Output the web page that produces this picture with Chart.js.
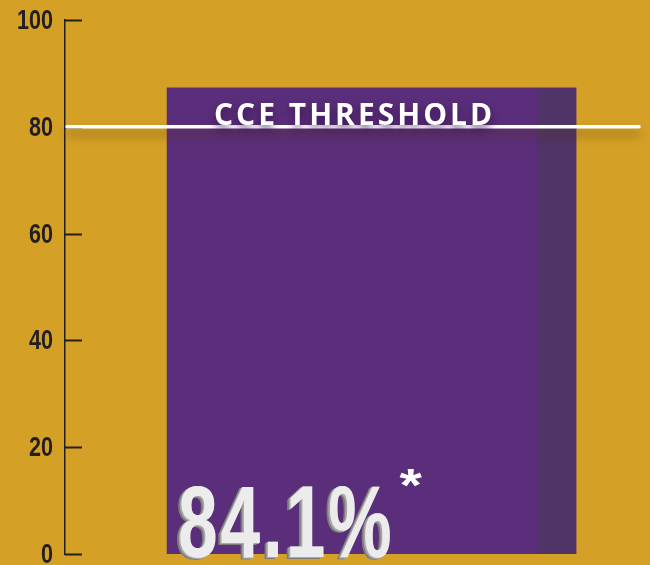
<!DOCTYPE html>
<html>
<head>
<meta charset="utf-8">
<script src="https://cdn.jsdelivr.net/npm/chart.js@4.4.1/dist/chart.umd.min.js"></script>
<style>
  html, body { margin: 0; padding: 0; background: #D4A126; }
  #wrap { width: 650px; height: 565px; position: relative; }
</style>
</head>
<body>
<div id="wrap"><canvas id="cceChart"></canvas></div>
<script>
// Data
const categories = ['CCE'];
const barPositions = [53.75];     // where the bar sits along the x scale (0-100)
const barValues = [87.3];         // visual height of the bar on the 0-100 axis
const valueLabels = ['84.1%'];
const thresholdValue = 80;
const thresholdLabel = 'CCE THRESHOLD';
const yMin = 0, yMax = 100, yStep = 20;

const barColor = '#5A2E7A';
const sideColor = '#4F3467';
const inkColor = '#231F20';

//Draws tick labels, inward ticks, the bar side, the big number and the threshold
const overlay = {
    id: 'overlay',
    afterDatasetsDraw(chart) {
        const ctx = chart.ctx;
        const y = chart.scales.y;
        const area = chart.chartArea;

        // inward tick marks + condensed labels
        ctx.save();
        ctx.strokeStyle = inkColor;
        ctx.fillStyle = inkColor;
        ctx.lineWidth = 2;
        ctx.font = 'bold 27px "Liberation Sans"';
        ctx.textAlign = 'right';
        ctx.textBaseline = 'middle';
        y.ticks.forEach(t => {
            const py = Math.round(y.getPixelForValue(t.value)) + 0.5;
            ctx.beginPath();
            ctx.moveTo(area.left, py);
            ctx.lineTo(area.left + 17, py);
            ctx.stroke();
            ctx.save();
            ctx.translate(area.left - 12, py + 1);
            ctx.scale(0.8, 1);
            ctx.fillText(String(t.value), 0, 0);
            ctx.restore();
        });
        ctx.restore();

        const meta = chart.getDatasetMeta(0);
        meta.data.forEach((bar, i) => {
            const left = bar.x - bar.width / 2;
            const right = bar.x + bar.width / 2;
            const sideW = bar.width * 0.095;

            // darker side
            ctx.save();
            ctx.fillStyle = sideColor;
            ctx.fillRect(right - sideW, bar.y + 1, sideW, bar.base - bar.y - 1);
            ctx.restore();

            // big value text with extrusion
            ctx.save();
            ctx.translate(left + 11, bar.base + 3);
            ctx.scale(0.7, 1);
            ctx.font = 'bold 102px "Liberation Sans"';
            ctx.letterSpacing = '4px';
            ctx.textBaseline = 'alphabetic';
            ctx.textAlign = 'left';
            for (let k = 6; k >= 1; k--) {
                ctx.fillStyle = k > 3 ? '#7d7d7d' : '#a8a8a8';
                ctx.fillText(valueLabels[i], -k * 0.8, k * 0.25);
            }
            ctx.fillStyle = '#ECECEC';
            ctx.fillText(valueLabels[i], 0, 0);
            const w = ctx.measureText(valueLabels[i]).width * 0.7;
            ctx.restore();

            // asterisk
            ctx.save();
            ctx.translate(left + 11 + w + 5, bar.base - 53);
            ctx.scale(1.25, 1);
            ctx.font = 'bold 46px "Liberation Sans"';
            ctx.fillStyle = '#FFFFFF';
            ctx.textAlign = 'left';
            ctx.textBaseline = 'alphabetic';
            ctx.fillText('*', 0, 0);
            ctx.restore();
        });

        // threshold line
        const ty = y.getPixelForValue(thresholdValue);
        ctx.save();
        ctx.shadowColor = 'rgba(90, 55, 10, 0.55)';
        ctx.shadowBlur = 10;
        ctx.shadowOffsetY = 7;
        ctx.strokeStyle = '#FFFFFF';
        ctx.lineWidth = 3.5;
        ctx.lineCap = 'round';
        ctx.beginPath();
        ctx.moveTo(area.left + 2, ty);
        ctx.lineTo(area.right, ty);
        ctx.stroke();
        ctx.restore();

        // threshold label
        ctx.save();
        ctx.font = 'bold 30px "Open Sans"';
        ctx.letterSpacing = '3px';
        ctx.fillStyle = '#FFFFFF';
        ctx.textAlign = 'center';
        ctx.textBaseline = 'alphabetic';
        ctx.shadowColor = 'rgba(50, 15, 70, 0.8)';
        ctx.shadowBlur = 9;
        ctx.shadowOffsetY = 5;
        const barMeta = meta.data[0];
        ctx.fillText(thresholdLabel, barMeta.x - 17, ty - 2);
        ctx.restore();
    }
};

const ctx = document.getElementById('cceChart').getContext('2d');
new Chart(ctx, {
    type: 'bar',
    data: {
        labels: categories,
        datasets: [{
            label: categories[0],
            data: barPositions.map((x, i) => ({ x: x, y: barValues[i] })),
            backgroundColor: barColor,
            borderWidth: 0,
            barThickness: 409
        }]
    },
    options: {
        responsive: true,
        maintainAspectRatio: false,
        animation: false,
        layout: { padding: { top: 20, right: 11, bottom: 11, left: 0 } },
        plugins: {
            legend: { display: false },
            tooltip: { enabled: false }
        },
        scales: {
            x: {
                type: 'linear',
                min: 0,
                max: 100,
                display: false
            },
            y: {
                min: yMin,
                max: yMax,
                afterFit: s => { s.width = 65; s.paddingTop = 0; s.paddingBottom = 0; },
                ticks: { stepSize: yStep, display: false },
                grid: { display: false, drawTicks: false },
                border: { display: true, color: inkColor, width: 1.5 }
            }
        }
    },
    plugins: [overlay]
});
</script>
</body>
</html>
